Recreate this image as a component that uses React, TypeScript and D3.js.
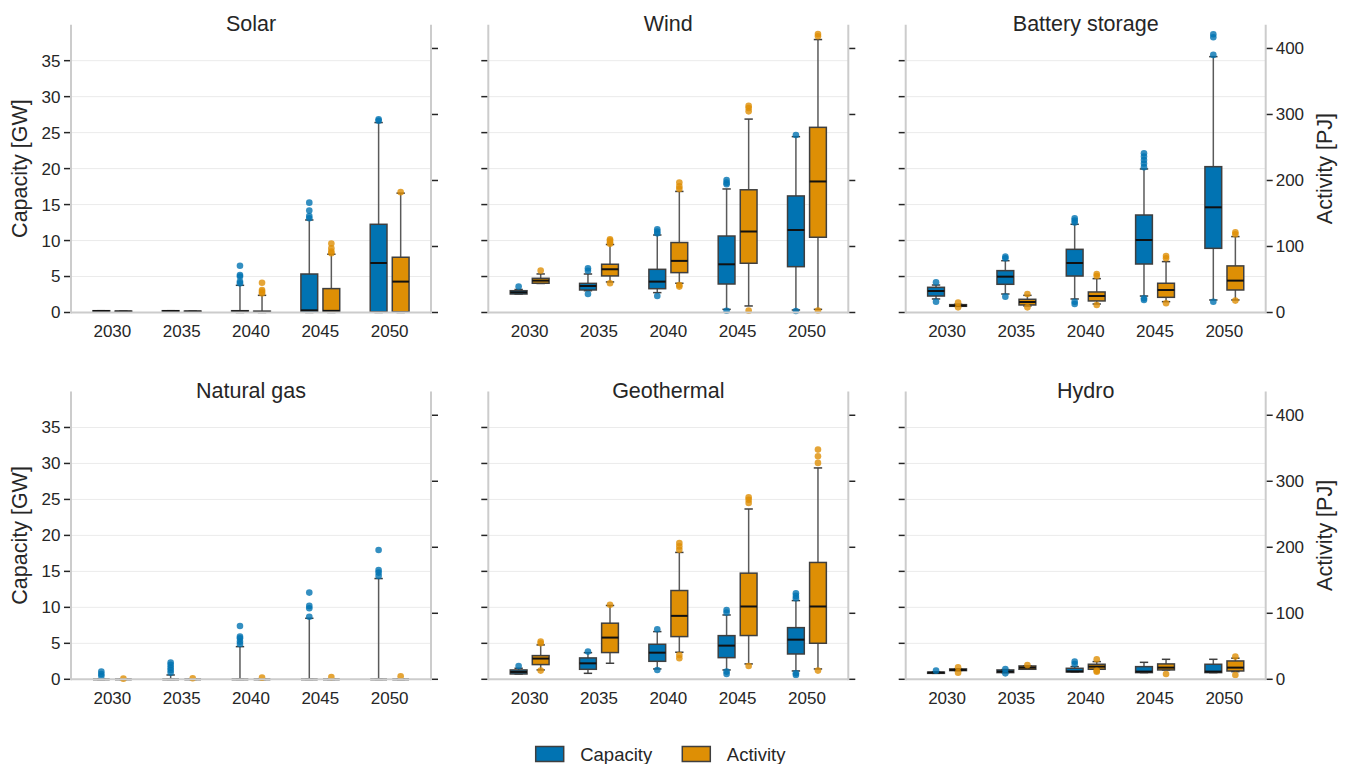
import React from "react";
import * as d3 from "d3";

const years = ["2030", "2035", "2040", "2045", "2050"];
const series = ["Capacity", "Activity"];
const technologies = ["Solar", "Wind", "Battery storage", "Natural gas", "Geothermal", "Hydro"];
const capacityTicks = [0, 5, 10, 15, 20, 25, 30, 35];
const activityTicks = [0, 100, 200, 300, 400];

// [low whisker, q1, median, q3, high whisker, outliers]
type Box = [number, number, number, number, number, number[]];

const solarCapacity: Box[] = [
  [0.15, 0.15, 0.2, 0.25, 0.25, []],
  [0.15, 0.15, 0.2, 0.25, 0.25, []],
  [0, 0.05, 0.15, 0.25, 3.78, [4.05, 4.3, 5.0, 5.2, 6.5]],
  [0, 0.05, 0.3, 5.35, 12.86, [13.1, 13.4, 14.16, 15.27]],
  [0, 0.1, 6.88, 12.26, 26.4, [26.65, 26.85]],
];
const solarActivity: Box[] = [
  [1, 1, 1.5, 2, 2, []],
  [1, 1, 1.5, 2, 2, []],
  [0, 0.5, 1, 2, 26, [29, 31.6, 34, 45]],
  [0, 0.5, 2.5, 36.2, 88.3, [89.8, 92.3, 97.4, 104.5]],
  [0, 1, 46.8, 83.7, 180.8, [182.3]],
];

const windCapacity: Box[] = [
  [2.57, 2.57, 2.8, 3.03, 3.2, [3.6]],
  [3.03, 3.13, 3.68, 4.05, 5.35, [2.57, 5.8, 6.14]],
  [2.76, 3.31, 4.29, 6.0, 10.77, [2.29, 11.0, 11.24, 11.56]],
  [0.44, 3.96, 6.7, 10.63, 17.17, [0.25, 17.82, 18.05, 18.42]],
  [0.35, 6.37, 11.47, 16.2, 24.44, [0.2, 24.68]],
];
const windActivity: Box[] = [
  [44, 44.3, 48.3, 51.8, 58.4, [63.5]],
  [46.3, 55.4, 65.5, 73.1, 103, [44.3, 104, 106, 109, 111]],
  [44.3, 60.4, 78.2, 106, 183.4, [39.2, 41.7, 187, 191, 197]],
  [9.9, 74.6, 122.7, 185.9, 293, [2.8, 304.7, 309.8, 313]],
  [4.8, 114, 198.5, 280.5, 413.5, [3, 418.5, 422]],
];

const batteryCapacity: Box[] = [
  [1.88, 2.29, 2.99, 3.5, 3.82, [1.5, 4.19]],
  [2.57, 3.92, 4.98, 5.82, 7.2, [2.2, 7.53, 7.76]],
  [1.88, 5.07, 6.88, 8.78, 12.26, [1.18, 1.5, 12.5, 12.77, 13.1]],
  [2.29, 6.74, 10.08, 13.55, 19.95, [1.74, 1.97, 20.2, 20.7, 21.2, 21.67, 22.13]],
  [1.74, 8.92, 14.62, 20.27, 35.56, [1.5, 35.8, 38.25, 38.67]],
];
const batteryActivity: Box[] = [
  [9.4, 9.4, 10.4, 11.9, 12.5, [7.8, 14.9]],
  [9.9, 11.4, 15.9, 20, 26, [7.8, 28]],
  [12.9, 17.5, 25, 31.1, 51.3, [11.4, 55.4, 58.4]],
  [16.4, 23, 34.1, 44.3, 77.1, [13.9, 82.2, 85.7]],
  [19, 34.1, 48.3, 70.6, 115, [18, 118.6, 121.6]],
];

const gasCapacity: Box[] = [
  [0, 0, 0, 0, 0, [0.46, 0.74, 1.07]],
  [0, 0, 0, 0, 0.6, [0.93, 1.3, 1.62, 2.0, 2.32]],
  [0, 0, 0, 0, 4.54, [4.9, 5.24, 5.7, 5.93, 7.41]],
  [0, 0, 0, 0, 8.48, [8.7, 9.87, 10.2, 12.05]],
  [0, 0, 0, 0, 14.0, [14.37, 14.83, 15.2, 17.98]],
];
const gasActivity: Box[] = [
  [0, 0, 0, 0, 0, [1]],
  [0, 0, 0, 0, 0, [1.5]],
  [0, 0, 0, 0, 0, [2.5]],
  [0, 0, 0, 0, 0, [3.5]],
  [0, 0, 0, 0, 0, [4.5]],
];

const geothermalCapacity: Box[] = [
  [0.74, 0.74, 1.02, 1.3, 1.53, [1.85]],
  [0.83, 1.39, 2.22, 2.97, 3.7, [3.85]],
  [1.44, 2.5, 3.7, 4.87, 6.63, [1.3, 6.95]],
  [1.3, 3.01, 4.68, 6.07, 8.94, [0.74, 1.07, 9.27, 9.64]],
  [1.16, 3.52, 5.51, 7.18, 10.94, [0.6, 0.83, 11.26, 11.59, 11.96]],
];
const geothermalActivity: Box[] = [
  [14.2, 22.3, 31.4, 35.9, 52.1, [13.2, 54.6, 57.2]],
  [24.3, 40.5, 63.2, 85, 111.8, [112.8]],
  [41, 64.7, 96.1, 134.5, 192.2, [31.9, 36.9, 196.3, 201.3, 206.4]],
  [23.3, 66.3, 110.3, 160.8, 258, [20.2, 267, 272, 275.7]],
  [15.7, 54.6, 110.3, 177, 320.2, [13.2, 327.8, 337.9, 348]],
];

const hydroCapacity: Box[] = [
  [0.83, 0.83, 0.93, 1.0, 1.05, [1.2]],
  [0.93, 0.93, 1.07, 1.3, 1.35, [0.83, 1.44]],
  [1.02, 1.02, 1.11, 1.53, 1.76, [2.13, 2.46]],
  [0.93, 0.93, 1.07, 1.76, 2.36, []],
  [0.93, 0.93, 1.07, 2.09, 2.78, []],
];
const hydroActivity: Box[] = [
  [13.2, 13.2, 14.2, 15.7, 16, [10.1, 18.2]],
  [15.2, 15.2, 17.7, 20.2, 20.5, [21.7]],
  [15.2, 15.2, 19.2, 22.8, 26.8, [11.6, 13, 30.3]],
  [14.2, 14.2, 17.7, 23.3, 30.3, [8.1]],
  [11.6, 12.6, 17.7, 27.8, 32, [6.6, 34.4]],
];

const panelData: Record<string, Box[][]> = {
  Solar: [solarCapacity, solarActivity],
  Wind: [windCapacity, windActivity],
  "Battery storage": [batteryCapacity, batteryActivity],
  "Natural gas": [gasCapacity, gasActivity],
  Geothermal: [geothermalCapacity, geothermalActivity],
  Hydro: [hydroCapacity, hydroActivity],
};

const colors = ["#0173b2", "#de8f05"];
const W = 1351;
const H = 764;
const panelW = 360;
const panelH = 287.8;
const colX = [71, 488.3, 905.7];
const rowY = [24.7, 391.5];
const FONT = "'Liberation Sans', Arial, sans-serif";
const TEXT = "#262626";
const SPINE = "#cccccc";

const x = d3.scaleBand().domain(years).range([6.7, panelW - 6.7]);
const groupW = x.bandwidth() * 0.56;
const xSub = d3.scaleBand().domain(series).range([-groupW / 2, groupW / 2]).paddingInner(0.24);
const yCap = d3.scaleLinear().domain([0, 40]).range([panelH, 0]);
const yAct = d3.scaleLinear().domain([0, 436]).range([panelH, 0]);

function BoxMark({ b, cx, y, color }: { b: Box; cx: number; y: d3.ScaleLinear<number, number>; color: string }) {
  const [lo, q1, med, q3, hi, out] = b;
  const bw = xSub.bandwidth();
  const cap = bw / 2;
  return (
    <g>
      <line x1={cx} x2={cx} y1={y(q3)} y2={y(hi)} stroke="#5a5a5a" strokeWidth={1.5} />
      <line x1={cx} x2={cx} y1={y(q1)} y2={y(lo)} stroke="#5a5a5a" strokeWidth={1.5} />
      <line x1={cx - cap / 2} x2={cx + cap / 2} y1={y(hi)} y2={y(hi)} stroke="#3f3f3f" strokeWidth={1.5} />
      <line x1={cx - cap / 2} x2={cx + cap / 2} y1={y(lo)} y2={y(lo)} stroke="#3f3f3f" strokeWidth={1.5} />
      <rect
        x={cx - bw / 2}
        y={y(q3)}
        width={bw}
        height={Math.max(0, y(q1) - y(q3))}
        fill={color}
        stroke="#3f3f3f"
        strokeWidth={1.5}
      />
      <line x1={cx - bw / 2} x2={cx + bw / 2} y1={y(med)} y2={y(med)} stroke="#111" strokeWidth={2} />
      {out.map((v, i) => (
        <circle key={i} cx={cx} cy={y(v)} r={3.3} fill={color} fillOpacity={0.8} />
      ))}
    </g>
  );
}

function Panel({ tech, idx }: { tech: string; idx: number }) {
  const col = idx % 3;
  const row = Math.floor(idx / 3);
  const [cap, act] = panelData[tech];
  return (
    <g transform={`translate(${colX[col]},${rowY[row]})`}>
      {capacityTicks.slice(1).map((t) => (
        <line key={t} x1={0} x2={panelW} y1={yCap(t)} y2={yCap(t)} stroke="#ebebeb" strokeWidth={1} />
      ))}
      <text x={panelW / 2} y={6} textAnchor="middle" fontSize={21.5} fill={TEXT}>
        {tech}
      </text>
      {years.map((yr, i) => {
        const c = (x(yr) ?? 0) + x.bandwidth() / 2;
        return (
          <g key={yr}>
            <BoxMark b={cap[i]} cx={c + (xSub("Capacity") ?? 0) + xSub.bandwidth() / 2} y={yCap} color={colors[0]} />
            <BoxMark b={act[i]} cx={c + (xSub("Activity") ?? 0) + xSub.bandwidth() / 2} y={yAct} color={colors[1]} />
            <text x={c} y={panelH + 24.5} textAnchor="middle" fontSize={17} fill={TEXT}>
              {yr}
            </text>
          </g>
        );
      })}
      <line x1={0} x2={panelW} y1={panelH} y2={panelH} stroke={SPINE} strokeWidth={2} />
      <line x1={0} x2={0} y1={0} y2={panelH + 1} stroke={SPINE} strokeWidth={2} />
      <line x1={panelW} x2={panelW} y1={0} y2={panelH + 1} stroke={SPINE} strokeWidth={2} />
      {capacityTicks.map((t) => (
        <g key={t} transform={`translate(0,${yCap(t)})`}>
          <line x1={-7} x2={-1} stroke={TEXT} strokeWidth={1.5} />
          {col === 0 && (
            <text x={-10.5} dy="0.35em" textAnchor="end" fontSize={17} fill={TEXT}>
              {t}
            </text>
          )}
        </g>
      ))}
      {activityTicks.map((t) => (
        <g key={t} transform={`translate(${panelW},${yAct(t)})`}>
          <line x1={1} x2={7} stroke={TEXT} strokeWidth={1.5} />
          {col === 2 && (
            <text x={10} dy="0.35em" textAnchor="start" fontSize={17} fill={TEXT}>
              {t}
            </text>
          )}
        </g>
      ))}
      {col === 0 && (
        <text transform={`translate(-44.3,${panelH / 2}) rotate(-90)`} textAnchor="middle" fontSize={21.5} fill={TEXT}>
          Capacity [GW]
        </text>
      )}
      {col === 2 && (
        <text transform={`translate(${panelW + 66.6},${panelH / 2}) rotate(-90)`} textAnchor="middle" fontSize={21.5} fill={TEXT}>
          Activity [PJ]
        </text>
      )}
    </g>
  );
}

export default function App() {
  const legendX = [535.7, 682.3];
  return (
    <svg
      width={W}
      height={H}
      style={{ position: "absolute", left: 0, top: 0, background: "#fff" }}
      fontFamily={FONT}
    >
      {technologies.map((t, i) => (
        <Panel key={t} tech={t} idx={i} />
      ))}
      {series.map((s, i) => (
        <g key={s} transform={`translate(${legendX[i]},746.5)`}>
          <rect width={28} height={15} fill={colors[i]} stroke="#3f3f3f" strokeWidth={1.5} />
          <text x={44.5} y={14.5} fontSize={18.5} fill={TEXT}>
            {s}
          </text>
        </g>
      ))}
    </svg>
  );
}
